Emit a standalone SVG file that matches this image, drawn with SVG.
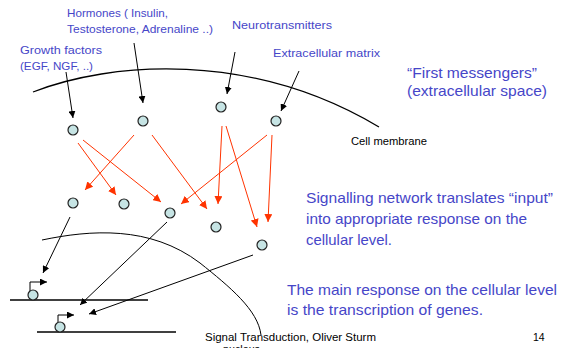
<svg xmlns="http://www.w3.org/2000/svg" width="563" height="348" viewBox="0 0 563 348">
<defs>
<marker id="ab" viewBox="0 0 10 10" refX="10" refY="5" markerWidth="7" markerHeight="7" markerUnits="userSpaceOnUse" orient="auto"><path d="M0,0 L10,5 L0,10 z" fill="#000"/></marker>
<marker id="ar" viewBox="0 0 10 10" refX="10" refY="5" markerWidth="8" markerHeight="8" markerUnits="userSpaceOnUse" orient="auto"><path d="M0,0 L10,5 L0,10 z" fill="#ff3300"/></marker>
<style>
.n{fill:#c6e4e4;stroke:#222;stroke-width:1.2}
.bk{stroke:#000;stroke-width:1;fill:none}
.ln{stroke:#000;stroke-width:1.3;fill:none}
.red{stroke:#ff3300;stroke-width:1;fill:none}
.bl{font-family:"Liberation Sans",Arial,sans-serif;fill:#4646c8}
.s{font-size:10.5px}
.b{font-size:15px}
.ft{font-family:"Liberation Sans",Arial,sans-serif;font-size:10.5px;fill:#000}
</style>
</defs>
<rect width="563" height="348" fill="#fff"/>
<g id="membranes">
<path class="ln" d="M33,92 C110,62 250,50 379,127"/>
<path class="bk" d="M42,240 C90,230 150,225 200,263 C230,287 258,310 261,335"/>
<line class="ln" x1="10" y1="300" x2="148" y2="300"/>
<line class="ln" x1="37" y1="332" x2="176" y2="332"/>
</g>
<g id="connectors">
<line class="bk" x1="66" y1="72" x2="73" y2="118" marker-end="url(#ab)"/>
<line class="bk" x1="134" y1="43" x2="143" y2="103" marker-end="url(#ab)"/>
<line class="bk" x1="235" y1="52" x2="227" y2="94" marker-end="url(#ab)"/>
<line class="bk" x1="299" y1="71" x2="281" y2="111" marker-end="url(#ab)"/>
<line class="red" x1="78" y1="143" x2="116" y2="195" marker-end="url(#ar)"/>
<line class="red" x1="83" y1="140" x2="161" y2="202" marker-end="url(#ar)"/>
<line class="red" x1="134" y1="135" x2="85" y2="190" marker-end="url(#ar)"/>
<line class="red" x1="152" y1="135" x2="207" y2="209" marker-end="url(#ar)"/>
<line class="red" x1="222" y1="126" x2="218" y2="204" marker-end="url(#ar)"/>
<line class="red" x1="226" y1="126" x2="257" y2="227" marker-end="url(#ar)"/>
<line class="red" x1="267" y1="135" x2="181" y2="204" marker-end="url(#ar)"/>
<line class="red" x1="272" y1="135" x2="268" y2="222" marker-end="url(#ar)"/>
<line class="bk" x1="70" y1="217" x2="43" y2="273" marker-end="url(#ab)"/>
<line class="bk" x1="167" y1="222" x2="80" y2="305" marker-end="url(#ab)"/>
<line class="bk" x1="253" y1="255" x2="89" y2="314" marker-end="url(#ab)"/>
<path class="bk" d="M30,292 V282 H47" marker-end="url(#ab)"/>
<path class="bk" d="M58,325 V315 H74" marker-end="url(#ab)"/>
</g>
<g id="n1"><circle class="n" cx="73" cy="130" r="5"/></g>
<g id="n2"><circle class="n" cx="143" cy="121" r="5"/></g>
<g id="n3"><circle class="n" cx="221" cy="107" r="5"/></g>
<g id="n4"><circle class="n" cx="276" cy="121" r="5"/></g>
<g id="n5"><circle class="n" cx="73" cy="203" r="5"/></g>
<g id="n6"><circle class="n" cx="124" cy="204" r="5"/></g>
<g id="n7"><circle class="n" cx="170" cy="213" r="5"/></g>
<g id="n8"><circle class="n" cx="216" cy="227" r="5"/></g>
<g id="n9"><circle class="n" cx="262" cy="245" r="5"/></g>
<g id="gene1"><circle class="n" cx="33" cy="295" r="5"/></g>
<g id="gene2"><circle class="n" cx="60" cy="327" r="5"/></g>
<g id="labels">
<text class="bl s" x="67" y="17" textLength="101" lengthAdjust="spacingAndGlyphs">Hormones ( Insulin,</text>
<text class="bl s" x="67" y="33" textLength="146" lengthAdjust="spacingAndGlyphs">Testosterone, Adrenaline ..)</text>
<text class="bl s" x="20" y="54" textLength="82" lengthAdjust="spacingAndGlyphs">Growth factors</text>
<text class="bl s" x="20" y="70" textLength="73" lengthAdjust="spacingAndGlyphs">(EGF, NGF, ..)</text>
<text class="bl s" x="232" y="28.5" textLength="100" lengthAdjust="spacingAndGlyphs">Neurotransmitters</text>
<text class="bl s" x="273" y="57" textLength="107" lengthAdjust="spacingAndGlyphs">Extracellular matrix</text>
<text class="bl b" x="407" y="78" textLength="130" lengthAdjust="spacingAndGlyphs">“First messengers”</text>
<text class="bl b" x="407" y="96" textLength="140" lengthAdjust="spacingAndGlyphs">(extracellular space)</text>
<text x="351" y="145" font-family="Liberation Sans, Arial, sans-serif" font-size="10" fill="#000" textLength="76" lengthAdjust="spacingAndGlyphs">Cell membrane</text>
<text class="bl b" x="306" y="203" textLength="247" lengthAdjust="spacingAndGlyphs">Signalling network translates “input”</text>
<text class="bl b" x="306" y="223.5" textLength="221" lengthAdjust="spacingAndGlyphs">into appropriate response on the</text>
<text class="bl b" x="306" y="245" textLength="86" lengthAdjust="spacingAndGlyphs">cellular level.</text>
<text class="bl b" x="287" y="295" textLength="270" lengthAdjust="spacingAndGlyphs">The main response on the cellular level</text>
<text class="bl b" x="287" y="315" textLength="196" lengthAdjust="spacingAndGlyphs">is the transcription of genes.</text>
<text class="ft" x="223" y="352.5" textLength="37" lengthAdjust="spacingAndGlyphs">nucleus</text>
<text class="ft" x="205" y="341" textLength="171" lengthAdjust="spacingAndGlyphs">Signal Transduction, Oliver Sturm</text>
<text class="ft" x="533" y="341">14</text>
</g>
</svg>
